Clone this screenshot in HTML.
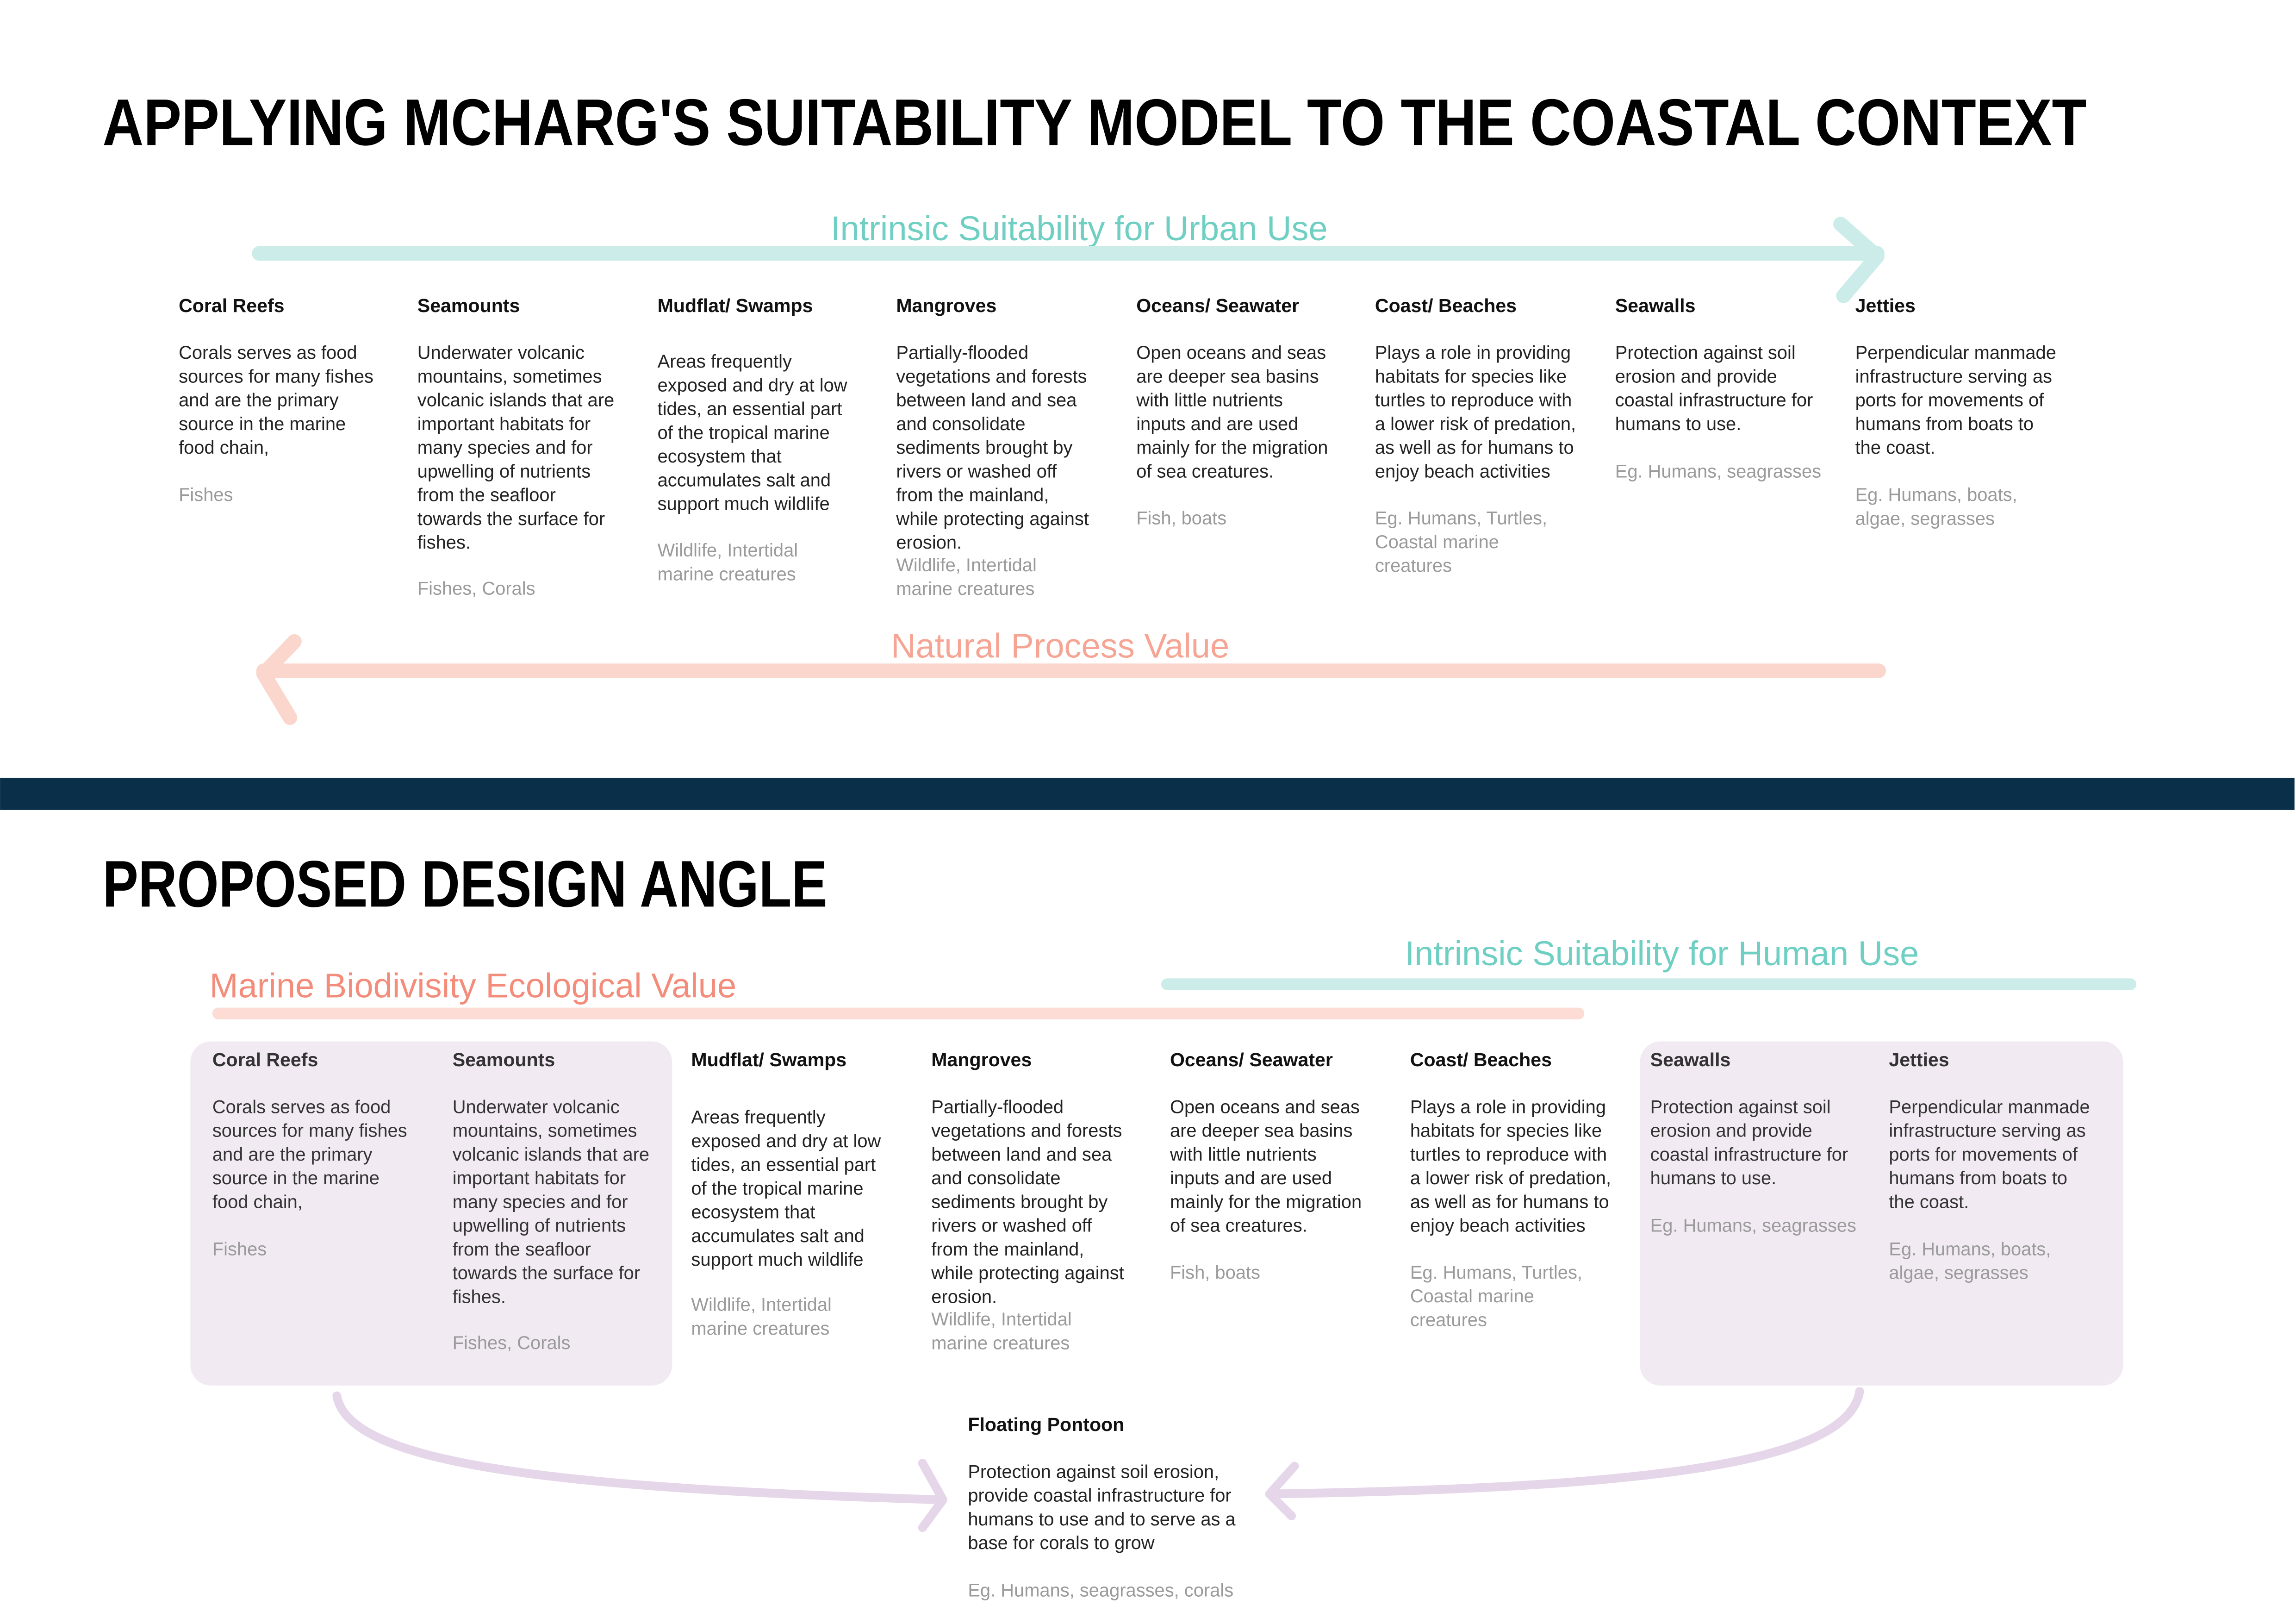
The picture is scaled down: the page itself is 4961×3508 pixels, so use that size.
<!DOCTYPE html>
<html><head><meta charset="utf-8">
<style>
html,body{margin:0;padding:0;background:#fff;}
svg{display:block;}
.b{font-family:"Liberation Sans",sans-serif;font-size:12.6px;fill:#222;}
.g{font-family:"Liberation Sans",sans-serif;font-size:12.6px;fill:#9a9a9a;}
.h{font-family:"Liberation Sans",sans-serif;font-size:13px;font-weight:bold;fill:#111;}
.t{font-family:"Liberation Sans",sans-serif;font-weight:bold;font-size:45px;fill:#000;}
.lt{font-family:"Liberation Sans",sans-serif;font-size:23.4px;fill:#6fcfc3;}
.lp{font-family:"Liberation Sans",sans-serif;font-size:23.4px;fill:#f6a493;}
</style></head>
<body>
<svg width="4961" height="3508" viewBox="0 0 1568 1108.8" xmlns="http://www.w3.org/2000/svg">
<rect width="1568" height="1108.8" fill="#fff"/>
<text class="t" x="70" y="99" textLength="1355" lengthAdjust="spacingAndGlyphs">APPLYING MCHARG'S SUITABILITY MODEL TO THE COASTAL CONTEXT</text>

<text class="lt" x="737" y="164" text-anchor="middle">Intrinsic Suitability for Urban Use</text>
<g stroke="#cbece8" stroke-width="10" stroke-linecap="round" fill="none" stroke-linejoin="round">
<line x1="177" y1="173" x2="1282" y2="173"/>
<polyline points="1257,153 1282,175 1259,202"/>
</g>
<text class="lp" x="724" y="449" text-anchor="middle">Natural Process Value</text>
<g stroke="#fbd6cd" stroke-width="10" stroke-linecap="round" fill="none" stroke-linejoin="round">
<line x1="180" y1="458" x2="1283" y2="458"/>
<polyline points="201,438 180,460 198,490"/>
</g>

<g>
<text class="h" x="122" y="213">Coral Reefs</text>
<text class="b"><tspan x="122" y="245">Corals serves as food</tspan><tspan x="122" dy="16.2">sources for many fishes</tspan><tspan x="122" dy="16.2">and are the primary</tspan><tspan x="122" dy="16.2">source in the marine</tspan><tspan x="122" dy="16.2">food chain,</tspan></text>
<text class="g" x="122" y="342">Fishes</text>

<text class="h" x="285" y="213">Seamounts</text>
<text class="b"><tspan x="285" y="245">Underwater volcanic</tspan><tspan x="285" dy="16.2">mountains, sometimes</tspan><tspan x="285" dy="16.2">volcanic islands that are</tspan><tspan x="285" dy="16.2">important habitats for</tspan><tspan x="285" dy="16.2">many species and for</tspan><tspan x="285" dy="16.2">upwelling of nutrients</tspan><tspan x="285" dy="16.2">from the seafloor</tspan><tspan x="285" dy="16.2">towards the surface for</tspan><tspan x="285" dy="16.2">fishes.</tspan></text>
<text class="g" x="285" y="406">Fishes, Corals</text>

<text class="h" x="449" y="213">Mudflat/ Swamps</text>
<text class="b"><tspan x="449" y="251">Areas frequently</tspan><tspan x="449" dy="16.2">exposed and dry at low</tspan><tspan x="449" dy="16.2">tides, an essential part</tspan><tspan x="449" dy="16.2">of the tropical marine</tspan><tspan x="449" dy="16.2">ecosystem that</tspan><tspan x="449" dy="16.2">accumulates salt and</tspan><tspan x="449" dy="16.2">support much wildlife</tspan></text>
<text class="g"><tspan x="449" y="380">Wildlife, Intertidal</tspan><tspan x="449" dy="16.2">marine creatures</tspan></text>

<text class="h" x="612" y="213">Mangroves</text>
<text class="b"><tspan x="612" y="245">Partially-flooded</tspan><tspan x="612" dy="16.2">vegetations and forests</tspan><tspan x="612" dy="16.2">between land and sea</tspan><tspan x="612" dy="16.2">and consolidate</tspan><tspan x="612" dy="16.2">sediments brought by</tspan><tspan x="612" dy="16.2">rivers or washed off</tspan><tspan x="612" dy="16.2">from the mainland,</tspan><tspan x="612" dy="16.2">while protecting against</tspan><tspan x="612" dy="16.2">erosion.</tspan></text>
<text class="g"><tspan x="612" y="390">Wildlife, Intertidal</tspan><tspan x="612" dy="16.2">marine creatures</tspan></text>

<text class="h" x="776" y="213">Oceans/ Seawater</text>
<text class="b"><tspan x="776" y="245">Open oceans and seas</tspan><tspan x="776" dy="16.2">are deeper sea basins</tspan><tspan x="776" dy="16.2">with little nutrients</tspan><tspan x="776" dy="16.2">inputs and are used</tspan><tspan x="776" dy="16.2">mainly for the migration</tspan><tspan x="776" dy="16.2">of sea creatures.</tspan></text>
<text class="g" x="776" y="358">Fish, boats</text>

<text class="h" x="939" y="213">Coast/ Beaches</text>
<text class="b"><tspan x="939" y="245">Plays a role in providing</tspan><tspan x="939" dy="16.2">habitats for species like</tspan><tspan x="939" dy="16.2">turtles to reproduce with</tspan><tspan x="939" dy="16.2">a lower risk of predation,</tspan><tspan x="939" dy="16.2">as well as for humans to</tspan><tspan x="939" dy="16.2">enjoy beach activities</tspan></text>
<text class="g"><tspan x="939" y="358">Eg. Humans, Turtles,</tspan><tspan x="939" dy="16.2">Coastal marine</tspan><tspan x="939" dy="16.2">creatures</tspan></text>

<text class="h" x="1103" y="213">Seawalls</text>
<text class="b"><tspan x="1103" y="245">Protection against soil</tspan><tspan x="1103" dy="16.2">erosion and provide</tspan><tspan x="1103" dy="16.2">coastal infrastructure for</tspan><tspan x="1103" dy="16.2">humans to use.</tspan></text>
<text class="g" x="1103" y="326">Eg. Humans, seagrasses</text>

<text class="h" x="1267" y="213">Jetties</text>
<text class="b"><tspan x="1267" y="245">Perpendicular manmade</tspan><tspan x="1267" dy="16.2">infrastructure serving as</tspan><tspan x="1267" dy="16.2">ports for movements of</tspan><tspan x="1267" dy="16.2">humans from boats to</tspan><tspan x="1267" dy="16.2">the coast.</tspan></text>
<text class="g"><tspan x="1267" y="342">Eg. Humans, boats,</tspan><tspan x="1267" dy="16.2">algae, segrasses</tspan></text>
</g>

<rect x="0" y="531" width="1567" height="22" fill="#0a3049"/>

<text class="t" x="70" y="619" textLength="495" lengthAdjust="spacingAndGlyphs">PROPOSED DESIGN ANGLE</text>

<text class="lt" x="1135" y="659" text-anchor="middle">Intrinsic Suitability for Human Use</text>
<line x1="797" y1="672" x2="1455" y2="672" stroke="#cbece8" stroke-width="8" stroke-linecap="round"/>
<text class="lp" x="323" y="681" text-anchor="middle" style="fill:#f38c7b">Marine Biodivisity Ecological Value</text>
<line x1="149" y1="692" x2="1078" y2="692" stroke="#fcdcd5" stroke-width="8" stroke-linecap="round"/>

<rect x="130" y="711" width="329" height="235" rx="14" fill="#f2eaf3"/>
<rect x="1120" y="711" width="330" height="235" rx="14" fill="#f2eaf3"/>

<g>
<text class="h" x="145" y="728" style="fill:#333">Coral Reefs</text>
<text class="b" style="fill:#333"><tspan x="145" y="760">Corals serves as food</tspan><tspan x="145" dy="16.2">sources for many fishes</tspan><tspan x="145" dy="16.2">and are the primary</tspan><tspan x="145" dy="16.2">source in the marine</tspan><tspan x="145" dy="16.2">food chain,</tspan></text>
<text class="g" x="145" y="857">Fishes</text>

<text class="h" x="309" y="728" style="fill:#333">Seamounts</text>
<text class="b" style="fill:#333"><tspan x="309" y="760">Underwater volcanic</tspan><tspan x="309" dy="16.2">mountains, sometimes</tspan><tspan x="309" dy="16.2">volcanic islands that are</tspan><tspan x="309" dy="16.2">important habitats for</tspan><tspan x="309" dy="16.2">many species and for</tspan><tspan x="309" dy="16.2">upwelling of nutrients</tspan><tspan x="309" dy="16.2">from the seafloor</tspan><tspan x="309" dy="16.2">towards the surface for</tspan><tspan x="309" dy="16.2">fishes.</tspan></text>
<text class="g" x="309" y="921">Fishes, Corals</text>

<text class="h" x="472" y="728">Mudflat/ Swamps</text>
<text class="b"><tspan x="472" y="767">Areas frequently</tspan><tspan x="472" dy="16.2">exposed and dry at low</tspan><tspan x="472" dy="16.2">tides, an essential part</tspan><tspan x="472" dy="16.2">of the tropical marine</tspan><tspan x="472" dy="16.2">ecosystem that</tspan><tspan x="472" dy="16.2">accumulates salt and</tspan><tspan x="472" dy="16.2">support much wildlife</tspan></text>
<text class="g"><tspan x="472" y="895">Wildlife, Intertidal</tspan><tspan x="472" dy="16.2">marine creatures</tspan></text>

<text class="h" x="636" y="728">Mangroves</text>
<text class="b"><tspan x="636" y="760">Partially-flooded</tspan><tspan x="636" dy="16.2">vegetations and forests</tspan><tspan x="636" dy="16.2">between land and sea</tspan><tspan x="636" dy="16.2">and consolidate</tspan><tspan x="636" dy="16.2">sediments brought by</tspan><tspan x="636" dy="16.2">rivers or washed off</tspan><tspan x="636" dy="16.2">from the mainland,</tspan><tspan x="636" dy="16.2">while protecting against</tspan><tspan x="636" dy="16.2">erosion.</tspan></text>
<text class="g"><tspan x="636" y="905">Wildlife, Intertidal</tspan><tspan x="636" dy="16.2">marine creatures</tspan></text>

<text class="h" x="799" y="728">Oceans/ Seawater</text>
<text class="b"><tspan x="799" y="760">Open oceans and seas</tspan><tspan x="799" dy="16.2">are deeper sea basins</tspan><tspan x="799" dy="16.2">with little nutrients</tspan><tspan x="799" dy="16.2">inputs and are used</tspan><tspan x="799" dy="16.2">mainly for the migration</tspan><tspan x="799" dy="16.2">of sea creatures.</tspan></text>
<text class="g" x="799" y="873">Fish, boats</text>

<text class="h" x="963" y="728">Coast/ Beaches</text>
<text class="b"><tspan x="963" y="760">Plays a role in providing</tspan><tspan x="963" dy="16.2">habitats for species like</tspan><tspan x="963" dy="16.2">turtles to reproduce with</tspan><tspan x="963" dy="16.2">a lower risk of predation,</tspan><tspan x="963" dy="16.2">as well as for humans to</tspan><tspan x="963" dy="16.2">enjoy beach activities</tspan></text>
<text class="g"><tspan x="963" y="873">Eg. Humans, Turtles,</tspan><tspan x="963" dy="16.2">Coastal marine</tspan><tspan x="963" dy="16.2">creatures</tspan></text>

<text class="h" x="1127" y="728" style="fill:#333">Seawalls</text>
<text class="b" style="fill:#333"><tspan x="1127" y="760">Protection against soil</tspan><tspan x="1127" dy="16.2">erosion and provide</tspan><tspan x="1127" dy="16.2">coastal infrastructure for</tspan><tspan x="1127" dy="16.2">humans to use.</tspan></text>
<text class="g" x="1127" y="841">Eg. Humans, seagrasses</text>

<text class="h" x="1290" y="728" style="fill:#333">Jetties</text>
<text class="b" style="fill:#333"><tspan x="1290" y="760">Perpendicular manmade</tspan><tspan x="1290" dy="16.2">infrastructure serving as</tspan><tspan x="1290" dy="16.2">ports for movements of</tspan><tspan x="1290" dy="16.2">humans from boats to</tspan><tspan x="1290" dy="16.2">the coast.</tspan></text>
<text class="g"><tspan x="1290" y="857">Eg. Humans, boats,</tspan><tspan x="1290" dy="16.2">algae, segrasses</tspan></text>

<text class="h" x="661" y="977">Floating Pontoon</text>
<text class="b"><tspan x="661" y="1009">Protection against soil erosion,</tspan><tspan x="661" dy="16.2">provide coastal infrastructure for</tspan><tspan x="661" dy="16.2">humans to use and to serve as a</tspan><tspan x="661" dy="16.2">base for corals to grow</tspan></text>
<text class="g" x="661" y="1090">Eg. Humans, seagrasses, corals</text>
</g>

<g stroke="#e6d6ea" stroke-width="6" stroke-linecap="round" fill="none" stroke-linejoin="round">
<path d="M230,953 C238,1000 380,1016 643,1024"/>
<polyline points="630,999 644,1024 630,1043"/>
<path d="M1270,950 C1262,1000 1120,1016 868,1020"/>
<polyline points="884,1001 867,1020 882,1035"/>
</g>
</svg>
</body></html>
